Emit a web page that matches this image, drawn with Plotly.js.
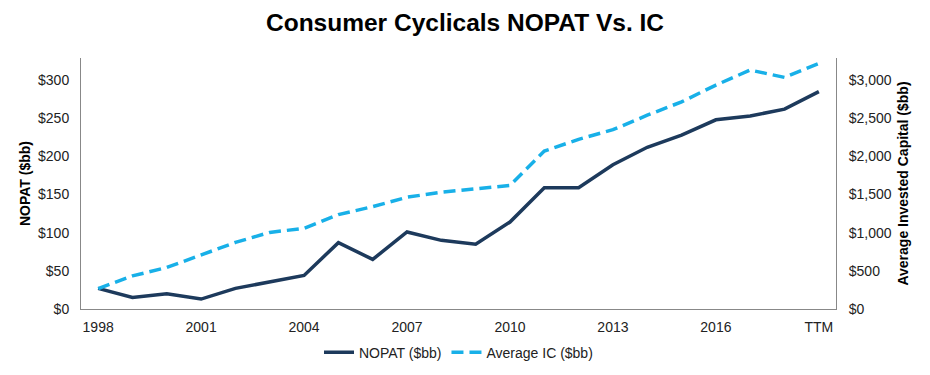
<!DOCTYPE html>
<html>
<head>
<meta charset="utf-8">
<script src="https://cdn.plot.ly/plotly-3.0.1.min.js"></script>
<style>html,body{margin:0;padding:0;background:#fff;}#chart{width:930px;height:375px;}</style>
</head>
<body>
<div id="chart"></div>
<script>
const categories = ["1998","1999","2000","2001","2002","2003","2004","2005","2006","2007","2008","2009","2010","2011","2012","2013","2014","2015","2016","2017","2018","TTM"];
const nopat = [27,15,20,13,27,36,44,87,65,101,90,85,114,159,159,189,212,228,248,253,262,285];
const avgIC = [267,434,544,707,873,1004,1057,1237,1342,1465,1531,1575,1619,2070,2224,2350,2540,2715,2935,3132,3036,3220];
const tickLabels = ["1998","2001","2004","2007","2010","2013","2016","TTM"];

const font = "Liberation Sans, Arial, sans-serif";
const data = [
  {x: categories, y: nopat, name: "NOPAT ($bb)", type: "scatter", mode: "lines",
   line: {color: "#1d3a5c", width: 3.5}, yaxis: "y"},
  {x: categories, y: avgIC, name: "Average IC ($bb)", type: "scatter", mode: "lines",
   line: {color: "#18b0e8", width: 3.5, dash: "12px,6px"}, yaxis: "y2"}
];
const layout = {
  width: 930, height: 375,
  margin: {l: 81, r: 94, t: 58, b: 66, autoexpand: false},
  paper_bgcolor: "#fff", plot_bgcolor: "#fff",
  font: {family: font, size: 14, color: "#222"},
  title: {text: "<b>Consumer Cyclicals NOPAT Vs. IC</b>", x: 0.5, xanchor: "center", y: 0.94, yanchor: "middle",
          font: {family: font, size: 24.5, color: "#000"}},
  showlegend: true,
  legend: {orientation: "h", x: 0.5, xanchor: "center", y: -0.11, yanchor: "top",
           font: {family: font, size: 14, color: "#222"}},
  xaxis: {type: "category", range: [-0.5, 21.5], tickmode: "array", tickvals: tickLabels, ticktext: tickLabels,
          showgrid: false, showline: true, linecolor: "#888", linewidth: 1, ticks: "", zeroline: false,
          ticklabelstandoff: 5,
          tickfont: {family: font, size: 14, color: "#222"}},
  yaxis: {range: [0, 329], tickvals: [0,50,100,150,200,250,300], ticktext: ["$0","$50","$100","$150","$200","$250","$300"],
          showgrid: false, showline: true, linecolor: "#888", linewidth: 1, ticks: "", zeroline: false,
          ticklabelstandoff: 8,
          title: {text: "<b>NOPAT ($bb)</b>", font: {family: font, size: 14, color: "#000"}, standoff: 4},
          tickfont: {family: font, size: 14, color: "#222"}},
  yaxis2: {overlaying: "y", side: "right", range: [0, 3290],
           tickvals: [0,500,1000,1500,2000,2500,3000], ticktext: ["$0","$500","$1,000","$1,500","$2,000","$2,500","$3,000"],
           showgrid: false, showline: true, linecolor: "#888", linewidth: 1, ticks: "", zeroline: false,
           ticklabelstandoff: 9,
           title: {text: "<b>Average Invested Capital ($bb)</b>", font: {family: font, size: 14, color: "#000"}, standoff: 7},
           tickfont: {family: font, size: 14, color: "#222"}}
};
Plotly.newPlot("chart", data, layout, {displayModeBar: false, staticPlot: true});
</script>
</body>
</html>
